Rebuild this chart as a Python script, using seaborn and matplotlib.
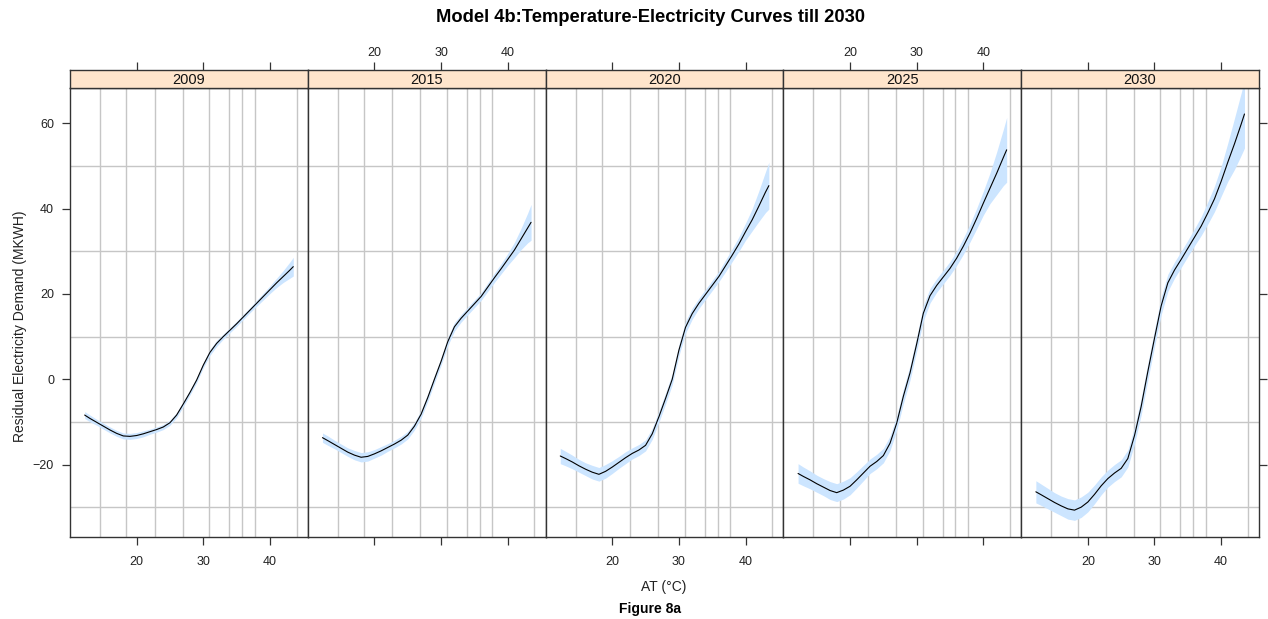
import numpy as np
import pandas as pd
import matplotlib
matplotlib.use("Agg")
import matplotlib.pyplot as plt
import seaborn as sns

# ---- data -------------------------------------------------------------
years = ["2009", "2015", "2020", "2025", "2030"]

temperature = [12.2, 13, 14, 15, 16, 17, 18, 19, 20, 21, 22,
               23, 24, 25, 26, 27, 28, 29, 30, 31, 32, 33,
               34, 35, 36, 37, 38, 39, 40, 41, 42, 43, 43.5]

demand_2009 = [-8.4, -9.2, -10.1, -11.0, -11.9, -12.7, -13.3, -13.4, -13.2, -12.8, -12.3,
               -11.8, -11.2, -10.2, -8.4, -5.8, -3.1, -0.2, 3.3, 6.3, 8.4, 10.0,
               11.5, 13.0, 14.6, 16.2, 17.8, 19.4, 21.0, 22.6, 24.1, 25.6, 26.4]
demand_2015 = [-13.7, -14.4, -15.3, -16.2, -17.1, -17.8, -18.3, -18.1, -17.5, -16.8, -16.0,
               -15.2, -14.3, -13.1, -11.0, -8.2, -4.3, 0.0, 4.2, 8.8, 12.3, 14.3,
               16.0, 17.7, 19.4, 21.6, 23.8, 25.9, 28.1, 30.3, 32.9, 35.5, 36.8]
demand_2020 = [-18.0, -18.6, -19.4, -20.3, -21.1, -21.8, -22.3, -21.6, -20.6, -19.5, -18.4,
               -17.4, -16.6, -15.5, -12.8, -8.8, -4.5, 0.0, 6.8, 12.2, 15.4, 17.8,
               19.9, 22.0, 24.1, 26.6, 29.1, 31.7, 34.6, 37.4, 40.6, 43.9, 45.4]
demand_2025 = [-22.1, -22.8, -23.6, -24.5, -25.3, -26.1, -26.6, -26.0, -25.1, -23.6, -22.0,
               -20.4, -19.3, -17.9, -15.0, -10.3, -4.0, 1.5, 8.3, 15.5, 19.6, 22.0,
               24.0, 26.0, 28.4, 31.2, 34.3, 37.7, 41.3, 44.8, 48.3, 52.0, 53.8]
demand_2030 = [-26.4, -27.1, -28.0, -28.9, -29.7, -30.4, -30.7, -30.0, -28.8, -27.0, -25.0,
               -23.3, -22.0, -20.9, -18.6, -13.2, -6.4, 1.8, 9.6, 17.2, 22.6, 25.6,
               28.1, 30.7, 33.3, 35.9, 39.0, 42.3, 46.4, 50.9, 55.2, 59.8, 62.2]

# half-width of the confidence band
band_2009 = [0.8, 0.8, 0.7, 0.7, 0.7, 0.7, 0.7, 0.7, 0.7, 0.7, 0.6,
             0.6, 0.6, 0.6, 0.6, 0.6, 0.6, 0.6, 0.6, 0.7, 0.7, 0.6,
             0.6, 0.6, 0.6, 0.6, 0.7, 0.8, 0.9, 1.1, 1.4, 1.9, 2.2]
band_2015 = [1.1, 1.1, 1.0, 1.0, 1.0, 1.1, 1.1, 1.1, 1.0, 1.0, 0.9,
             0.9, 0.9, 0.9, 0.9, 0.9, 0.9, 0.9, 0.9, 1.0, 1.0, 0.9,
             0.9, 0.9, 0.9, 1.0, 1.1, 1.2, 1.4, 1.8, 2.5, 3.5, 4.2]
band_2020 = [1.8, 1.7, 1.6, 1.5, 1.5, 1.6, 1.6, 1.6, 1.5, 1.4, 1.4,
             1.3, 1.3, 1.3, 1.3, 1.3, 1.3, 1.3, 1.3, 1.4, 1.3, 1.2,
             1.2, 1.2, 1.2, 1.4, 1.5, 1.7, 2.0, 2.6, 3.6, 4.8, 5.5]
band_2025 = [2.3, 2.2, 2.1, 2.0, 2.0, 2.1, 2.1, 2.1, 2.0, 1.9, 1.8,
             1.7, 1.7, 1.7, 1.7, 1.7, 1.7, 1.7, 1.7, 1.8, 1.7, 1.6,
             1.6, 1.6, 1.7, 1.9, 2.1, 2.4, 2.8, 3.6, 5.0, 6.6, 7.6]
band_2030 = [2.6, 2.5, 2.4, 2.3, 2.3, 2.4, 2.4, 2.4, 2.3, 2.2, 2.1,
             2.0, 2.0, 2.0, 2.0, 2.0, 2.0, 2.0, 2.0, 2.1, 2.0, 1.9,
             1.9, 1.9, 2.0, 2.2, 2.6, 3.0, 3.5, 4.5, 6.0, 7.3, 8.0]

# vertical reference lines (temperature quantiles)
temp_grid = [14.5, 18.45, 22.7, 26.9, 30.9, 33.9, 35.8, 37.7, 44.0]
x_ticks = [20, 30, 40]
y_ticks = [-20, 0, 20, 40, 60]
y_grid = [-30, -20, -10, 0, 10, 20, 30, 40, 50, 60]

demand = [demand_2009, demand_2015, demand_2020, demand_2025, demand_2030]
bands = [band_2009, band_2015, band_2020, band_2025, band_2030]

frames = []
for yr, d, b in zip(years, demand, bands):
    d = np.asarray(d)
    b = np.asarray(b)
    frames.append(pd.DataFrame({"year": yr, "AT": temperature, "demand": d,
                                "lo": d - b, "hi": d + b}))
df = pd.concat(frames, ignore_index=True)

# ---- figure -----------------------------------------------------------
sns.set_style("white")
plt.rcParams["font.family"] = ["Liberation Sans", "DejaVu Sans"]

W, H = 1268, 619
fig = plt.figure(figsize=(W / 100, H / 100), dpi=100)


def px_axes(x0, y0, x1, y1):
    return fig.add_axes([x0 / W, 1 - y1 / H, (x1 - x0) / W, (y1 - y0) / H])


XLIM = (10.0, 45.68)
YLIM = (-37.0, 68.3)
left, right = 70, 1259
pw = (right - left) / len(years)
top_panel, bottom_panel, strip_top = 88, 537, 70
edge = "#333333"
grid_col = "#c6c6c6"
tick_kw = dict(length=6, width=0.9, color=edge, labelsize=9,
               labelcolor="#222222", direction="out")

for i, yr in enumerate(years):
    x0 = left + i * pw
    x1 = x0 + pw
    ax = px_axes(x0, top_panel, x1, bottom_panel)
    sub = df[df["year"] == yr]

    ax.fill_between(sub["AT"], sub["lo"], sub["hi"], color="#cce5ff",
                    linewidth=0, zorder=2)
    sns.lineplot(data=sub, x="AT", y="demand", ax=ax, color="black",
                 linewidth=0.8, estimator=None, sort=False, zorder=3)

    ax.set_xlim(*XLIM)
    ax.set_ylim(*YLIM)
    ax.set_xlabel("")
    ax.set_ylabel("")

    ax.set_xticks(x_ticks)
    ax.set_xticks(temp_grid, minor=True)
    ax.set_yticks(y_ticks)
    ax.set_yticks(y_grid, minor=True)
    ax.grid(False)
    ax.grid(which="minor", color=grid_col, linewidth=1.0, zorder=1)
    ax.set_axisbelow(True)
    ax.tick_params(which="minor", length=0)
    ax.tick_params(axis="x", which="major", bottom=True, top=False,
                   labelbottom=(i % 2 == 0), pad=7.5, **tick_kw)
    ax.tick_params(axis="y", which="major", left=(i == 0), right=(i == len(years) - 1),
                   labelleft=(i == 0), labelright=False, pad=5.5, **tick_kw)
    for s in ax.spines.values():
        s.set_color(edge)
        s.set_linewidth(1.0)

    # strip with the year label; it carries the top ticks
    st = px_axes(x0, strip_top, x1, top_panel)
    st.set_facecolor("#ffe5cc")
    st.set_xlim(*XLIM)
    st.set_ylim(0, 1)
    st.set_yticks([])
    st.set_xticks(x_ticks)
    st.tick_params(axis="x", bottom=False, labelbottom=False, top=True,
                   labeltop=(i % 2 == 1), pad=2, **tick_kw)
    for s in st.spines.values():
        s.set_color(edge)
        s.set_linewidth(1.0)
    st.text(0.5, 0.45, yr, transform=st.transAxes, ha="center", va="center",
            fontsize=10.5, color="#111111")

fig.text(651 / W, 1 - 17.5 / H, "Model 4b:Temperature-Electricity Curves till 2030",
         ha="center", va="center", fontsize=13.2, fontweight="bold", color="black")
fig.text(664 / W, 1 - 587 / H, "AT (\u00b0C)", ha="center", va="center",
         fontsize=10, color="#222222")
fig.text(650 / W, 1 - 609 / H, "Figure 8a", ha="center", va="center",
         fontsize=10, fontweight="bold", color="black")
fig.text(20 / W, 1 - 326 / H, "Residual Electricity Demand (MKWH)", ha="center",
         va="center", rotation=90, fontsize=10, color="#222222")

fig.savefig("out.png", dpi=100)
